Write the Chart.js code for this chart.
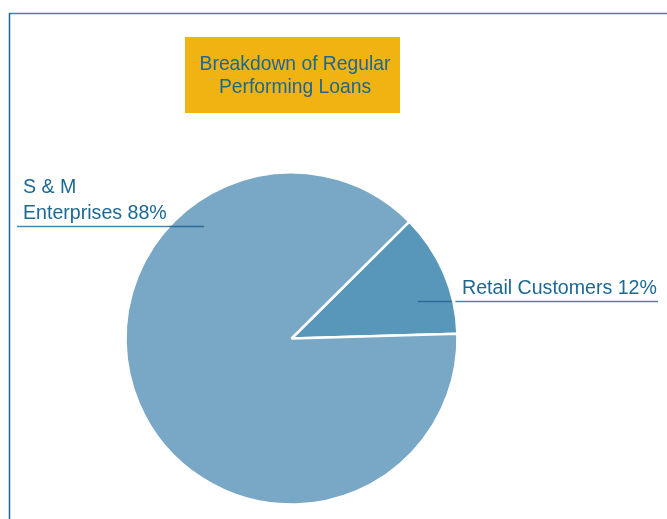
<!DOCTYPE html>
<html>
<head>
<meta charset="utf-8">
<script src="https://cdn.jsdelivr.net/npm/chart.js@4/dist/chart.umd.min.js"></script>
<style>
html,body{margin:0;padding:0;background:#fff;}
#wrap{position:relative;width:667px;height:519px;}
</style>
</head>
<body>
<div id="wrap"><canvas id="c" width="667" height="519"></canvas></div>
<script>
const categories = ["Retail Customers", "S & M Enterprises"];
const shares = [12, 88];
const titleLines = ["Breakdown of Regular", "Performing Loans"];
const sliceColors = ["#5897b9", "#79a8c7"];

const textColor = "#1c6894";
const FONT = "'Liberation Sans', Arial, sans-serif";

const overlay = {
  id: "overlay",
  beforeDraw(chart) {
    const ctx = chart.ctx;
    ctx.save();
    ctx.fillStyle = "#fff";
    ctx.fillRect(0, 0, chart.width, chart.height);
    // frame
    ctx.lineWidth = 1.5;
    ctx.strokeStyle = "#3f82aa";
    ctx.beginPath(); ctx.moveTo(9, 13.5); ctx.lineTo(667, 13.5); ctx.stroke();
    ctx.strokeStyle = "#1a6592";
    ctx.beginPath(); ctx.moveTo(9.5, 13); ctx.lineTo(9.5, 519); ctx.stroke();
    // title box
    ctx.fillStyle = "#f0b311";
    ctx.fillRect(185, 37, 215, 76);
    ctx.fillStyle = textColor;
    ctx.font = "19.3px " + FONT;
    ctx.textAlign = "center";
    ctx.textBaseline = "alphabetic";
    ctx.fillText(titleLines[0], 295, 70);
    ctx.fillText(titleLines[1], 295, 93);
    ctx.restore();
  },
  afterDraw(chart) {
    const ctx = chart.ctx;
    const meta = chart.getDatasetMeta(0);
    const cx = meta.data[0].x, cy = meta.data[0].y, r = meta.data[0].outerRadius;
    ctx.save();
    ctx.font = "19.6px " + FONT;
    ctx.fillStyle = textColor;
    ctx.textAlign = "left";
    ctx.textBaseline = "alphabetic";
    const pct = shares.map(v => Math.round(v / shares.reduce((a, b) => a + b, 0) * 100) + "%");
    // S & M label
    ctx.fillText("S & M", 23, 193);
    ctx.fillText("Enterprises " + pct[1], 23, 219);
    // Retail label
    ctx.fillText(categories[0] + " " + pct[0], 462, 294);
    // leader lines
    ctx.lineWidth = 1.3;
    const y1 = 226.5;
    const xe1 = cx - Math.sqrt(r * r - (y1 - cy) * (y1 - cy));
    ctx.strokeStyle = "#4a88ad";
    ctx.beginPath(); ctx.moveTo(17, y1); ctx.lineTo(xe1, y1); ctx.stroke();
    ctx.strokeStyle = "#2b6c96";
    ctx.beginPath(); ctx.moveTo(xe1, y1); ctx.lineTo(204, y1); ctx.stroke();
    const y2 = 301.5;
    const xe2 = cx + Math.sqrt(r * r - (y2 - cy) * (y2 - cy));
    ctx.strokeStyle = "#2b6c96";
    ctx.beginPath(); ctx.moveTo(418, y2); ctx.lineTo(xe2 - 1.5, y2); ctx.stroke();
    ctx.strokeStyle = "#4a88ad";
    ctx.beginPath(); ctx.moveTo(xe2 + 2, y2); ctx.lineTo(658, y2); ctx.stroke();
    ctx.restore();
  }
};

new Chart(document.getElementById("c"), {
  type: "pie",
  data: {
    labels: categories,
    datasets: [{
      data: shares,
      backgroundColor: sliceColors,
      borderColor: "#ffffff",
      borderWidth: 2.5,
      hoverOffset: 0
    }]
  },
  options: {
    responsive: false,
    animation: false,
    rotation: 45.2,
    radius: 166,
    layout: { padding: { left: 126.5, right: 210.5, top: 173.5, bottom: 15.5 } },
    plugins: { legend: { display: false }, tooltip: { enabled: false }, title: { display: false } },
    events: []
  },
  plugins: [overlay]
});
</script>
</body>
</html>
